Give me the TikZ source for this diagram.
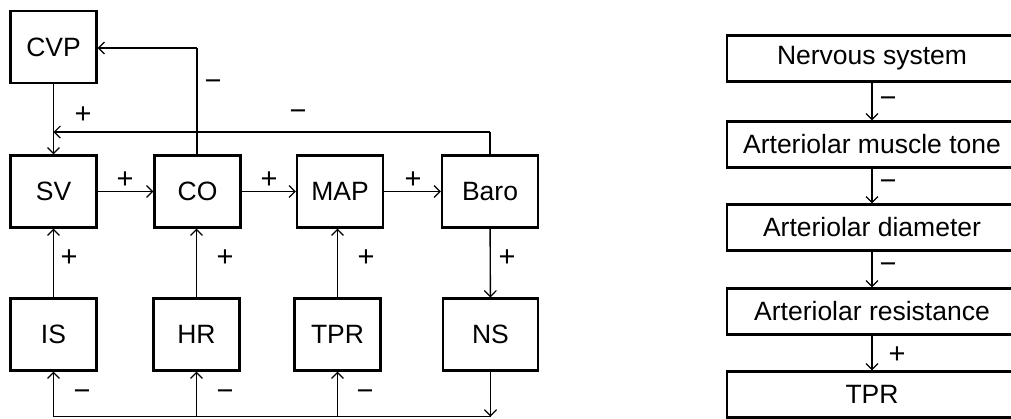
\documentclass[tikz,border=0pt]{standalone}
\usepackage{fontspec}
\setmainfont{Liberation Sans}
\usetikzlibrary{arrows.meta}
\begin{document}
\begin{tikzpicture}[x=1pt,y=-1pt,
  font=\fontsize{26.5}{30}\selectfont,
  box/.style={draw,line width=2.2pt,inner sep=0pt,anchor=center},
  sq/.style={box,minimum width=86pt,minimum height=72pt},
  wide/.style={box,minimum width=290pt,minimum height=46pt},
  conn/.style={line width=1.4pt},
  arr/.style={conn,-{Straight Barb[length=6pt,width=12pt,line width=1.2pt]}},
  sgn/.style={inner sep=0pt,font=\fontsize{29}{30}\selectfont}]
\useasboundingbox (0,0) rectangle (1011,418);
\clip (0,0) rectangle (1011,418);
% left diagram
\node[sq] (CVP) at (53.5,47) {CVP};
\node[sq] (SV) at (53.5,191.5) {SV};
\node[sq] (CO) at (197.5,191.5) {CO};
\node[sq] (MAP) at (340,191.5) {MAP};
\node[sq,minimum width=96pt] (Baro) at (490,191.5) {Baro};
\node[sq] (IS) at (53.5,334.5) {IS};
\node[sq] (HR) at (196.5,334.5) {HR};
\node[sq] (TPRl) at (337.5,334.5) {TPR};
\node[sq,minimum width=95pt] (NS) at (490.5,334.5) {NS};
\coordinate (j1) at (53.5,132);
\coordinate (j2) at (490,132);
\coordinate (c1) at (197,48);
\coordinate (b1) at (53.5,416.5);
\coordinate (b2) at (196.5,416.5);
\coordinate (b3) at (337.5,416.5);
\coordinate (b4) at (490.5,416.5);
\draw[arr] (CVP.south) -- (SV.north);
\draw[conn] (Baro.north -| j2) -- (j2);
\draw[arr] (j2) -- (j1);
\draw[conn] (CO.north -| c1) -- (c1);
\draw[arr] (c1) -- (c1 -| CVP.east);
\draw[arr] (SV) -- (CO);
\draw[arr] (CO) -- (MAP);
\draw[arr] (MAP) -- (Baro);
\draw[arr] (IS) -- (SV);
\draw[arr] (HR) -- (HR |- CO.south);
\draw[arr] (TPRl) -- (TPRl |- MAP.south);
\draw[arr] (Baro) -- (NS);
\draw[arr] (NS) -- (b4);
\draw[conn] (b4) -- (b1);
\draw[arr] (b1) -- (IS);
\draw[arr] (b2) -- (HR);
\draw[arr] (b3) -- (TPRl);
\node[sgn] (m1) at (213,85) {−};
\node[sgn] (p1) at (83,115) {+};
\node[sgn] (m2) at (298,115) {−};
\node[sgn] (p2) at (125,180) {+};
\node[sgn] (p3) at (269,180) {+};
\node[sgn] (p4) at (413,180) {+};
\node[sgn] (p5) at (69,258) {+};
\node[sgn] (p6) at (225,258) {+};
\node[sgn] (p7) at (366,258) {+};
\node[sgn] (p8) at (507,258) {+};
\node[sgn] (m3) at (82,395) {−};
\node[sgn] (m4) at (225,395) {−};
\node[sgn] (m5) at (365,395) {−};
% right diagram
\node[wide] (nerv) at (872,58.5) {Nervous system};
\node[wide] (amt) at (872,144.5) {Arteriolar muscle tone};
\node[wide] (ad) at (872,227.5) {Arteriolar diameter};
\node[wide] (ar) at (872,311.5) {Arteriolar resistance};
\node[wide] (tpr) at (872,394.5) {TPR};
\draw[arr] (nerv) -- (amt);
\draw[arr] (amt) -- (ad);
\draw[arr] (ad) -- (ar);
\draw[arr] (ar) -- (tpr);
\node[sgn] (r1) at (888,102) {−};
\node[sgn] (r2) at (888,185) {−};
\node[sgn] (r3) at (888,268) {−};
\node[sgn] (r4) at (897,355) {+};
\end{tikzpicture}
\end{document}
